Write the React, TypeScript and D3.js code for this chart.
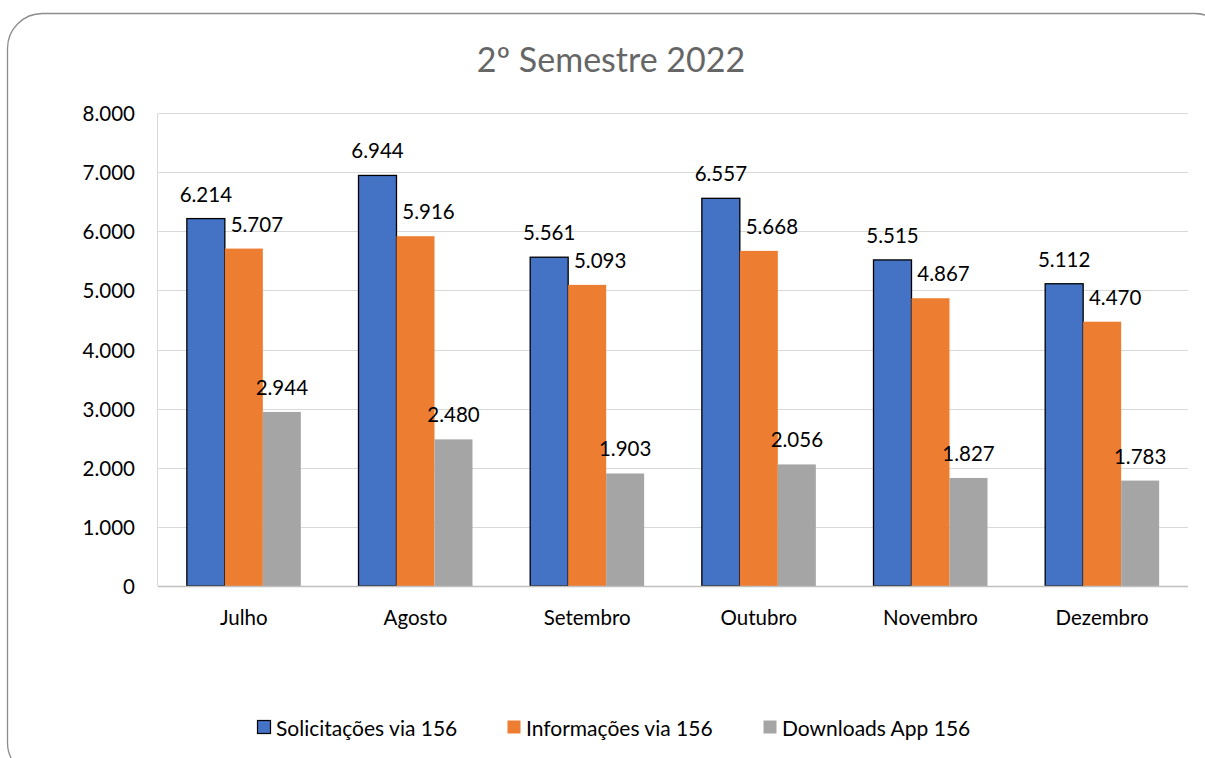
import { useEffect, useRef } from 'react';
import * as d3 from 'd3';

const months = ['Julho', 'Agosto', 'Setembro', 'Outubro', 'Novembro', 'Dezembro'];
const seriesNames = ['Solicitações via 156', 'Informações via 156', 'Downloads App 156'];
const solicitacoes = [6214, 6944, 5561, 6557, 5515, 5112];
const informacoes = [5707, 5916, 5093, 5668, 4867, 4470];
const downloads = [2944, 2480, 1903, 2056, 1827, 1783];
const yTicks = [0, 1000, 2000, 3000, 4000, 5000, 6000, 7000, 8000];

const colors = ['#4472C4', '#ED7D31', '#A5A5A5'];
const font = 'Lato, "Open Sans", sans-serif';

const fmt = (v: number) => d3.format(',')(v).replace(/,/g, '.');

const App = () => {
  const ref = useRef<SVGSVGElement | null>(null);

  useEffect(() => {
    document.body.style.margin = '0';
    if (!ref.current) return;
    const svg = d3.select(ref.current);
    svg.selectAll('*').remove();

    const left = 158, right = 1188, top = 113, bottom = 586;

    // rounded frame (runs off the right and bottom edges)
    svg.append('rect')
      .attr('x', 7.5).attr('y', 13.5)
      .attr('width', 1222).attr('height', 764)
      .attr('rx', 35).attr('ry', 35)
      .attr('fill', 'white')
      .attr('stroke', '#8c8c8c')
      .attr('stroke-width', 1.3);

    svg.append('text')
      .attr('x', 611).attr('y', 58)
      .attr('text-anchor', 'middle')
      .attr('dominant-baseline', 'central')
      .style('font-family', font)
      .style('font-size', '34px')
      .style('fill', '#666666')
      .text('2º Semestre 2022');

    const y = d3.scaleLinear().domain([0, 8000]).range([bottom, top]);
    const x0 = d3.scaleBand<string>().domain(months).range([left, right]).padding(0);
    const bw = x0.bandwidth();
    const x1 = d3.scaleBand<string>().domain(seriesNames)
      .range([bw * 0.168, bw * 0.832]).padding(0);

    // gridlines
    svg.append('g').selectAll('line')
      .data(yTicks.filter(t => t > 0))
      .enter().append('line')
      .attr('x1', left).attr('x2', right)
      .attr('y1', d => Math.round(y(d)) + 0.5).attr('y2', d => Math.round(y(d)) + 0.5)
      .attr('stroke', '#d9d9d9').attr('stroke-width', 1);

    // left plot border
    svg.append('line')
      .attr('x1', left - 0.5).attr('x2', left - 0.5)
      .attr('y1', Math.round(y(8000)) + 0.5).attr('y2', bottom)
      .attr('stroke', '#d9d9d9').attr('stroke-width', 1);

    // y labels
    svg.append('g').selectAll('text')
      .data(yTicks)
      .enter().append('text')
      .attr('x', 135).attr('y', d => y(d))
      .attr('text-anchor', 'end')
      .attr('dominant-baseline', 'central')
      .style('font-family', font)
      .style('font-size', '20.5px')
      .style('fill', '#000')
      .text(d => fmt(d));

    const table = [solicitacoes, informacoes, downloads];
    const rows = months.map((m, i) => ({
      month: m,
      vals: seriesNames.map((s, j) => ({ name: s, idx: j, value: table[j][i] })),
    }));

    const groups = svg.append('g').selectAll('g')
      .data(rows)
      .enter().append('g')
      .attr('transform', d => `translate(${x0(d.month)},0)`);

    groups.selectAll('rect')
      .data(d => d.vals)
      .enter().append('rect')
      .attr('x', d => x1(d.name)!)
      .attr('y', d => y(d.value))
      .attr('width', x1.bandwidth())
      .attr('height', d => bottom - y(d.value))
      .attr('fill', d => colors[d.idx])
      .attr('stroke', d => (d.idx === 0 ? '#000' : 'none'))
      .attr('stroke-width', 1.3);

    // value labels (orange ones nudged right, as in the original)
    groups.selectAll('text')
      .data(d => d.vals)
      .enter().append('text')
      .attr('x', d => x1(d.name)! + x1.bandwidth() / 2 + (d.idx === 1 ? 13 : 0))
      .attr('y', d => y(d.value) - 25)
      .attr('text-anchor', 'middle')
      .attr('dominant-baseline', 'central')
      .style('font-family', font)
      .style('font-size', '20.5px')
      .style('fill', '#000')
      .text(d => fmt(d.value));

    // x axis line
    svg.append('line')
      .attr('x1', left).attr('x2', right)
      .attr('y1', bottom + 0.5).attr('y2', bottom + 0.5)
      .attr('stroke', '#bfbfbf').attr('stroke-width', 1.3);

    // month labels
    svg.append('g').selectAll('text')
      .data(months)
      .enter().append('text')
      .attr('x', d => x0(d)! + bw / 2)
      .attr('y', 617)
      .attr('text-anchor', 'middle')
      .attr('dominant-baseline', 'central')
      .style('font-family', font)
      .style('font-size', '20.5px')
      .style('fill', '#000')
      .text(d => d);

    // legend
    const legendX = [257, 507, 763];
    const lg = svg.append('g').selectAll('g')
      .data(seriesNames)
      .enter().append('g')
      .attr('transform', (_d, i) => `translate(${legendX[i]},727)`);
    lg.append('rect')
      .attr('x', 0.5).attr('y', -6.5)
      .attr('width', 13).attr('height', 13)
      .attr('fill', (_d, i) => colors[i])
      .attr('stroke', (_d, i) => (i === 0 ? '#000' : 'none'))
      .attr('stroke-width', 1.2);
    lg.append('text')
      .attr('x', 19).attr('y', 0)
      .attr('dominant-baseline', 'central')
      .style('font-family', font)
      .style('font-size', '21px')
      .style('fill', '#000')
      .text(d => d);
  }, []);

  return (
    <svg ref={ref} width={1205} height={758} style={{ display: 'block' }}></svg>
  );
};

export default App;
